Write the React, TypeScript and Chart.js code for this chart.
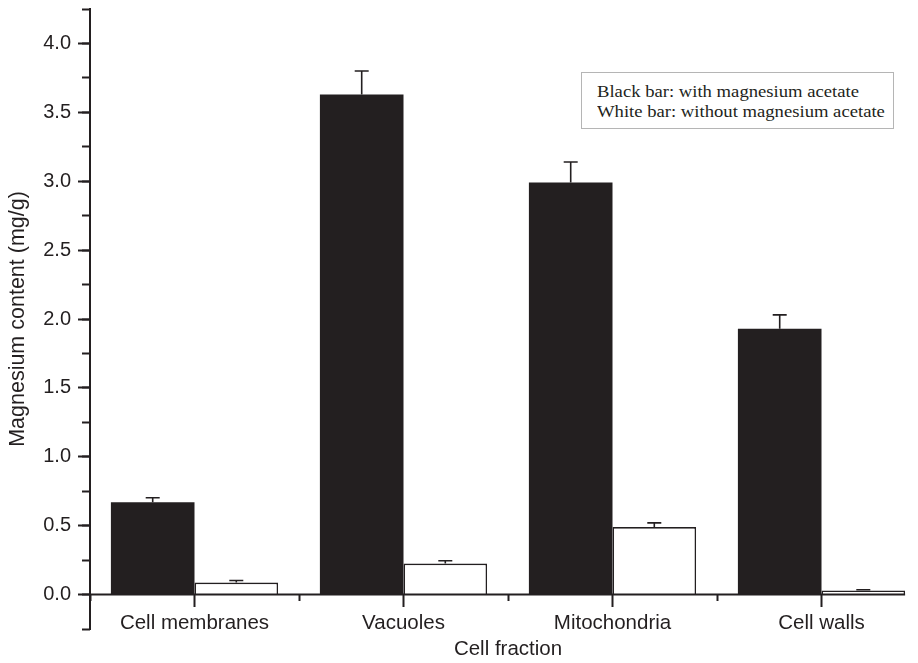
import React, { useEffect, useRef } from 'react';
import { Chart, registerables } from 'chart.js';

Chart.register(...registerables);

// ---- data ----
const categories = ['Cell membranes', 'Vacuoles', 'Mitochondria', 'Cell walls'];
const withMg = [0.67, 3.63, 2.99, 1.93];
const withMgErr = [0.033, 0.17, 0.15, 0.1];
const withoutMg = [0.087, 0.225, 0.49, 0.03];
const withoutMgErr = [0.015, 0.02, 0.03, 0.005];

const Y_MIN = -0.25;
const Y_MAX = 4.25;
const Y_STEP = 0.25;
const Y_LABEL_STEP = 0.5;

const legendLines = ['Black bar: with magnesium acetate', 'White bar: without magnesium acetate'];

const INK = '#231f20';
const SANS = "'Liberation Sans', Arial, Helvetica, sans-serif";

const isMajor = (v: number) => Math.abs(v / Y_LABEL_STEP - Math.round(v / Y_LABEL_STEP)) < 1e-6;

const errorBarsPlugin = {
  id: 'errorBars',
  afterDatasetsDraw(chart: any) {
    const { ctx } = chart;
    const yScale = chart.scales.y;
    const sets: [number[], number[]][] = [
      [withMg, withMgErr],
      [withoutMg, withoutMgErr],
    ];
    ctx.save();
    ctx.strokeStyle = INK;
    ctx.lineWidth = 1.6;
    sets.forEach(([vals, errs], di) => {
      const meta = chart.getDatasetMeta(di);
      meta.data.forEach((el: any, i: number) => {
        const x = el.x;
        const y0 = yScale.getPixelForValue(vals[i]);
        const y1 = yScale.getPixelForValue(vals[i] + errs[i]);
        const half = 7;
        ctx.beginPath();
        ctx.moveTo(x, y0);
        ctx.lineTo(x, y1);
        ctx.moveTo(x - half, y1);
        ctx.lineTo(x + half, y1);
        ctx.stroke();
      });
    });
    // x axis line at value 0, ending at the last bar
    const lastMeta = chart.getDatasetMeta(1);
    const last = lastMeta.data[lastMeta.data.length - 1];
    const yz = yScale.getPixelForValue(0);
    ctx.lineWidth = 2;
    ctx.beginPath();
    ctx.moveTo(chart.chartArea.left, yz);
    ctx.lineTo(last.x + last.width / 2, yz);
    ctx.stroke();
    ctx.restore();
  },
};

export default function App() {
  const canvasRef = useRef<HTMLCanvasElement | null>(null);

  useEffect(() => {
    if (!canvasRef.current) return;
    const chart = new Chart(canvasRef.current, {
      type: 'bar',
      data: {
        labels: categories,
        datasets: [
          {
            label: 'with magnesium acetate',
            data: withMg,
            backgroundColor: INK,
            borderColor: INK,
            borderWidth: 0,
            xAxisID: 'x',
            yAxisID: 'y',
            categoryPercentage: 0.8,
            barPercentage: 1.0,
          },
          {
            label: 'without magnesium acetate',
            data: withoutMg,
            backgroundColor: '#ffffff',
            borderColor: INK,
            borderWidth: 1.6,
            xAxisID: 'x',
            yAxisID: 'y',
            categoryPercentage: 0.8,
            barPercentage: 1.0,
          },
        ],
      },
      options: {
        responsive: false,
        animation: false,
        devicePixelRatio: 1,
        layout: { padding: { top: 9, right: 4, left: 0, bottom: 34 } },
        plugins: { legend: { display: false }, tooltip: { enabled: false } },
        scales: {
          y: {
            type: 'linear',
            axis: 'y',
            position: 'left',
            weight: 1,
            min: Y_MIN,
            max: Y_MAX,
            afterFit: (s: any) => {
              s.width = 90;
              s.paddingTop = 0;
              s.paddingBottom = 0;
            },
            border: { display: true, color: INK, width: 2 },
            grid: {
              drawOnChartArea: false,
              drawTicks: true,
              tickLength: 12,
              tickWidth: 2,
              tickColor: (c: any) => (c.tick && isMajor(c.tick.value) ? INK : 'rgba(0,0,0,0)'),
            },
            ticks: {
              stepSize: Y_STEP,
              padding: 7,
              color: INK,
              font: { family: SANS, size: 20 },
              callback: (v: any) => (isMajor(Number(v)) ? Number(v).toFixed(1) : ''),
            },
            title: {
              display: true,
              text: 'Magnesium content (mg/g)',
              color: INK,
              font: { family: SANS, size: 21.5 },
              padding: { top: 5, bottom: 0 },
            },
          },
          y2: {
            type: 'linear',
            axis: 'y',
            position: 'left',
            weight: 0,
            min: Y_MIN,
            max: Y_MAX,
            afterFit: (s: any) => {
              s.width = 0;
              s.paddingTop = 0;
              s.paddingBottom = 0;
            },
            border: { display: false },
            grid: { drawOnChartArea: false, drawTicks: true, tickLength: 8, tickWidth: 2, tickColor: INK },
            ticks: { display: false, stepSize: Y_STEP },
          },
          x: {
            type: 'category',
            axis: 'x',
            position: { y: 0 },
            offset: true,
            afterFit: (s: any) => {
              s.height = 34;
              s.paddingLeft = 0;
              s.paddingRight = 0;
            },
            border: { display: false },
            grid: {
              offset: false,
              drawOnChartArea: false,
              drawTicks: true,
              tickLength: 12,
              tickWidth: 2,
              tickColor: INK,
            },
            ticks: {
              color: INK,
              font: { family: SANS, size: 20.5 },
              padding: 4,
              maxRotation: 0,
              autoSkip: false,
            },
            title: {
              display: true,
              text: 'Cell fraction',
              color: INK,
              font: { family: SANS, size: 20.5 },
              padding: { top: 0, bottom: -33 },
            },
          },
          x2: {
            type: 'category',
            axis: 'x',
            position: { y: 0 },
            offset: true,
            afterFit: (s: any) => {
              s.height = 0;
              s.paddingLeft = 0;
              s.paddingRight = 0;
            },
            border: { display: false },
            grid: { offset: true, drawOnChartArea: false, drawTicks: true, tickLength: 6, tickWidth: 2, tickColor: INK },
            ticks: { display: false },
          },
        },
      } as any,
      plugins: [errorBarsPlugin],
    });
    return () => chart.destroy();
  }, []);

  return (
    <div
      style={{
        position: 'absolute',
        left: 0,
        top: 0,
        width: 918,
        height: 663,
        overflow: 'hidden',
        background: '#ffffff',
      }}
    >
      <canvas ref={canvasRef} width={930} height={663} style={{ display: 'block' }} />
      <div
        style={{
          position: 'absolute',
          left: 581,
          top: 72,
          width: 313,
          height: 57,
          boxSizing: 'border-box',
          border: '1px solid #b5b5b5',
          background: '#ffffff',
        }}
      >
        <div
          style={{
            position: 'absolute',
            left: 15,
            top: 9,
            transform: 'scaleX(1.13)',
            transformOrigin: 'left top',
            fontFamily: "'Liberation Serif', 'Times New Roman', serif",
            fontSize: 16.5,
            lineHeight: '20px',
            color: INK,
            whiteSpace: 'nowrap',
          }}
        >
          {legendLines.map((t) => (
            <div key={t}>{t}</div>
          ))}
        </div>
      </div>
    </div>
  );
}
